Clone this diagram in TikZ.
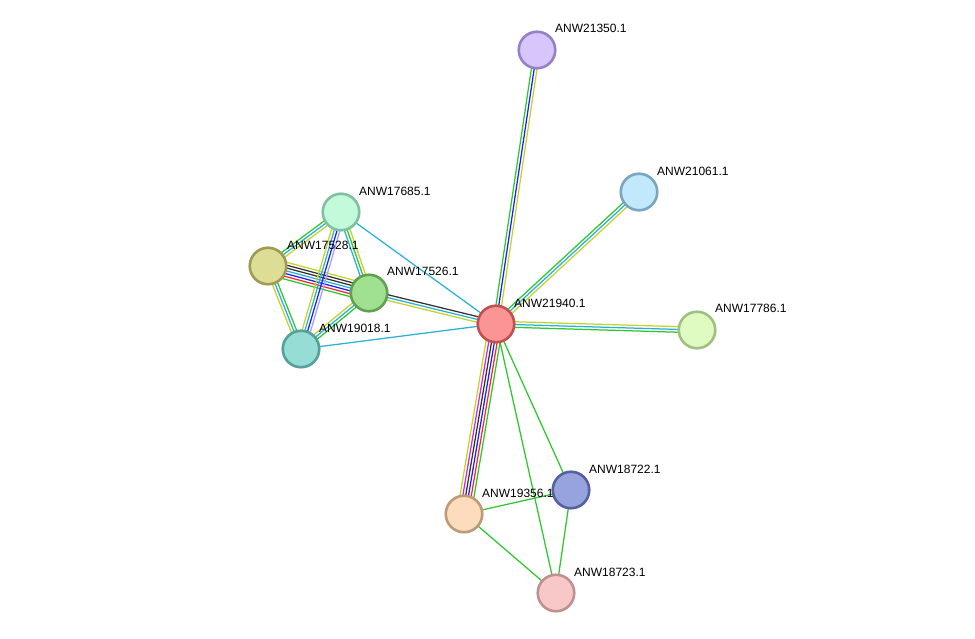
\documentclass[tikz,border=0pt]{standalone}
\usepackage{fontspec}
\setmainfont{Liberation Sans}
\usetikzlibrary{calc}
\pgfdeclarelayer{bg}
\pgfdeclarelayer{paper}
\pgfsetlayers{paper,bg,main}
\definecolor{eG}{RGB}{45,200,45}
\definecolor{eY}{RGB}{195,212,40}
\definecolor{eC}{RGB}{40,178,215}
\definecolor{eB}{RGB}{30,30,250}
\definecolor{eR}{RGB}{250,40,40}
\definecolor{eM}{RGB}{210,40,210}
\definecolor{eK}{RGB}{50,50,50}
\definecolor{eL}{RGB}{160,160,255}
\tikzset{
  prot/.style={circle,minimum size=36.5pt,inner sep=0pt,line width=2.6pt},
  lab/.style={anchor=west,inner sep=0pt,font=\fontsize{12}{14}\selectfont,text=black},
  ed/.style={line width=1.25pt}
}
% colours listed from the side on the left of the travel direction a->b to the right side
\newcommand\medge[3]{%
  \foreach \cc [count=\i] in {#3} {\xdef\nlines{\i}}%
  \foreach \cc [count=\i] in {#3} {%
    \pgfmathsetmacro\off{((\nlines+1)/2-\i)*2.8}%
    \draw[ed,draw=\cc] ($(#1.center)!\off pt!90:(#2.center)$) -- ($(#2.center)!\off pt!-90:(#1.center)$);
  }%
}
\begin{document}
\begin{tikzpicture}[x=1pt,y=-1pt]
\useasboundingbox (0,0) rectangle (975,639);
\begin{pgfonlayer}{paper}
\fill[white] (0,0) rectangle (975,639);
\end{pgfonlayer}
% nodes
\node[prot,fill={rgb,255:red,214;green,198;blue,251},draw={rgb,255:red,150;green,128;blue,200}] (n21350) at (537,50) {};
\node[prot,fill={rgb,255:red,194;green,232;blue,251},draw={rgb,255:red,122;green,165;blue,192}] (n21061) at (639,192) {};
\node[prot,fill={rgb,255:red,194;green,250;blue,218},draw={rgb,255:red,128;green,192;blue,160}] (n17685) at (341,212) {};
\node[prot,fill={rgb,255:red,222;green,221;blue,150},draw={rgb,255:red,160;green,154;blue,85}] (n17528) at (268,266) {};
\node[prot,fill={rgb,255:red,160;green,224;blue,145},draw={rgb,255:red,96;green,160;blue,80}] (n17526) at (369,293) {};
\node[prot,fill={rgb,255:red,251;green,149;blue,149},draw={rgb,255:red,192;green,80;blue,80}] (n21940) at (496,324) {};
\node[prot,fill={rgb,255:red,224;green,251;blue,194},draw={rgb,255:red,160;green,192;blue,128}] (n17786) at (697,330) {};
\node[prot,fill={rgb,255:red,149;green,221;blue,213},draw={rgb,255:red,85;green,160;blue,152}] (n19018) at (301,349) {};
\node[prot,fill={rgb,255:red,151;green,163;blue,221},draw={rgb,255:red,85;green,96;blue,160}] (n18722) at (571,490) {};
\node[prot,fill={rgb,255:red,252;green,220;blue,189},draw={rgb,255:red,192;green,154;blue,120}] (n19356) at (464,514) {};
\node[prot,fill={rgb,255:red,248;green,200;blue,200},draw={rgb,255:red,192;green,144;blue,144}] (n18723) at (556,593) {};
% labels
\node[lab] (l21350) at (555,28) {ANW21350.1};
\node[lab] (l21061) at (657,171) {ANW21061.1};
\node[lab] (l17685) at (359,191) {ANW17685.1};
\node[lab] (l17528) at (287,245) {ANW17528.1};
\node[lab] (l17526) at (387,271) {ANW17526.1};
\node[lab] (l21940) at (514,303) {ANW21940.1};
\node[lab] (l17786) at (715,308) {ANW17786.1};
\node[lab] (l19018) at (319,328) {ANW19018.1};
\node[lab] (l18722) at (589,469) {ANW18722.1};
\node[lab] (l19356) at (482,493) {ANW19356.1};
\node[lab] (l18723) at (574,572) {ANW18723.1};
% edges
\begin{pgfonlayer}{bg}
\medge{n21940}{n21350}{eG,eB,eY}
\medge{n21940}{n21061}{eG,eC,eY}
\medge{n21940}{n17786}{eY,eC,eG}
\medge{n21940}{n19356}{eG,eR,eB,eK,eM,eY}
\medge{n21940}{n17526}{eY,eC,eK}
\medge{n21940}{n17685}{eC}
\medge{n21940}{n19018}{eC}
\medge{n21940}{n18722}{eG}
\medge{n21940}{n18723}{eG}
\medge{n19356}{n18722}{eG}
\medge{n19356}{n18723}{eG}
\medge{n18722}{n18723}{eG}
\medge{n17528}{n17526}{eY,eK,eK,eC,eB,eR,eG}
\medge{n17528}{n17685}{eG,eC,eY}
\medge{n17685}{n17526}{eY,eG,eC}
\medge{n17685}{n19018}{eL,eB,eC,eY}
\medge{n17528}{n19018}{eG,eC,eY}
\medge{n17526}{n19018}{eG,eC,eY}
\end{pgfonlayer}
\end{tikzpicture}
\end{document}
